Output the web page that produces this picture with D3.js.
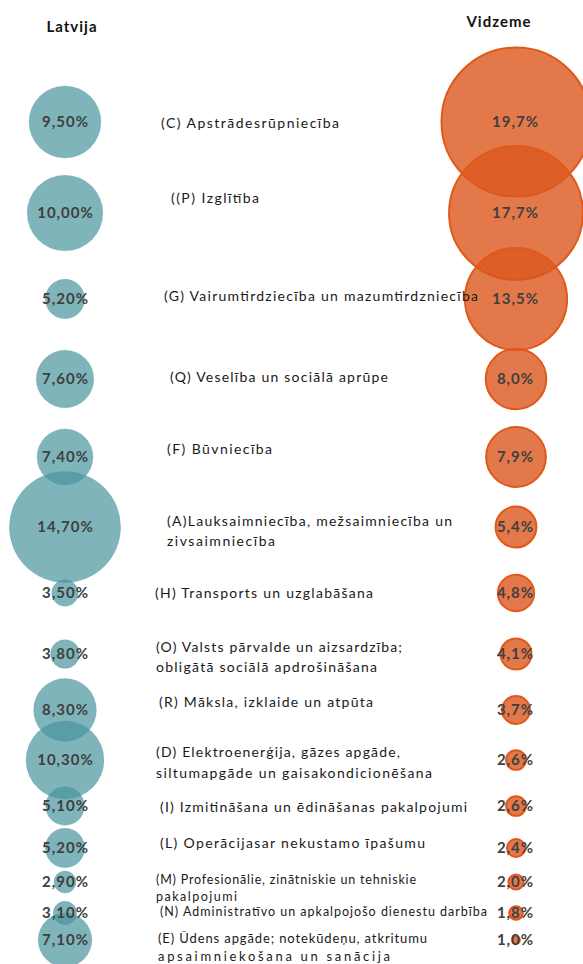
<!DOCTYPE html>
<html><head><meta charset="utf-8">
<script src="https://cdn.jsdelivr.net/npm/d3@7"></script>
<style>
html,body{margin:0;padding:0;background:#fff;}
svg{display:block;font-family:Lato,"Open Sans",sans-serif;}
</style></head>
<body>
<svg id="chart" width="583" height="964"></svg>
<script>
// ---- data ----
const categories = [
  "(C) Apstrādesrūpniecība",
  "((P) Izglītība",
  "(G) Vairumtirdziecība un mazumtirdzniecība",
  "(Q) Veselība un sociālā aprūpe",
  "(F) Būvniecība",
  "(A)Lauksaimniecība, mežsaimniecība un|zivsaimniecība",
  "(H) Transports un uzglabāšana",
  "(O) Valsts pārvalde un aizsardzība;|obligātā sociālā apdrošināšana",
  "(R) Māksla, izklaide un atpūta",
  "(D) Elektroenerģija, gāzes apgāde,|siltumapgāde un gaisakondicionēšana",
  "(I) Izmitināšana un ēdināšanas pakalpojumi",
  "(L) Operācijasar nekustamo īpašumu",
  "(M) Profesionālie, zinātniskie un tehniskie|pakalpojumi",
  "(N) Administratīvo un apkalpojošo dienestu darbība",
  "(E) Ūdens apgāde; notekūdeņu, atkritumu|apsaimniekošana un sanācija"
];
const latvija = [9.5, 10.0, 5.2, 7.6, 7.4, 14.7, 3.5, 3.8, 8.3, 10.3, 5.1, 5.2, 2.9, 3.1, 7.1];
const vidzeme = [19.7, 17.7, 13.5, 8.0, 7.9, 5.4, 4.8, 4.1, 3.7, 2.6, 2.6, 2.4, 2.0, 1.8, 1.0];
const seriesNames = ["Latvija", "Vidzeme"];

// ---- layout (positions, not data) ----
const rowY   = [122, 213, 299, 379, 457, 527, 593, 654, 710, 760, 806, 848, 882, 913, 940];
const labelY = [123, 198, 296, 377, 449, 521, 593, 647, 702, 752, 807, 843, 880, 912, 938];
const labelX = [161, 171, 164, 170, 167, 167, 155, 156, 159, 156, 160, 160, 156, 160, 158];
const labelSize = [14,14,14,14,14,14,14,14,14,14,14,14,12.5,12.5,13];
const lineGap   = [20,20,20,20,20,20,20,20,20,21,20,20,17,17,18];
const lineWidths = [[178],[88],[314],[218],[105],[285,108],[218],[246,221],[214],[244,276],
                    [307],[265],[260,81],[327],[269,232]];

const svg = d3.select("#chart");
const x = d3.scalePoint().domain(seriesNames).range([65, 516]);
const r = d3.scaleLinear().domain([0, 19.7]).range([0, 74.5]);
const y = d3.scaleLinear().domain([0, 964]).range([0, 964]);

const fmtL = v => d3.format(".2f")(v).replace(".", ",") + "%";
const fmtV = v => d3.format(".1f")(v).replace(".", ",") + "%";

// headers
svg.append("text").attr("x", 72).attr("y", 32).attr("text-anchor", "middle")
  .attr("font-weight", "bold").attr("font-size", 15).attr("letter-spacing", 1)
  .attr("fill", "#111").text(seriesNames[0]);
svg.append("text").attr("x", 499).attr("y", 27).attr("text-anchor", "middle")
  .attr("font-weight", "bold").attr("font-size", 15).attr("letter-spacing", 1)
  .attr("fill", "#111").text(seriesNames[1]);

// bubbles
svg.append("g").selectAll("circle").data(latvija).join("circle")
  .attr("cx", x("Latvija")).attr("cy", (d, i) => y(rowY[i])).attr("r", d => r(d))
  .attr("fill", "rgb(72,148,158)").attr("fill-opacity", 0.7)
  .attr("stroke", "rgb(72,148,158)").attr("stroke-opacity", 0.25).attr("stroke-width", 1);

svg.append("g").selectAll("circle").data(vidzeme).join("circle")
  .attr("cx", x("Vidzeme")).attr("cy", (d, i) => y(rowY[i])).attr("r", d => r(d))
  .attr("fill", "rgb(220,88,30)").attr("fill-opacity", 0.8)
  .attr("stroke", "rgb(224,88,26)").attr("stroke-width", 2);

// value labels
svg.append("g").selectAll("text").data(latvija).join("text")
  .attr("x", x("Latvija") + 0.5).attr("y", (d, i) => y(rowY[i])).attr("dy", "0.35em")
  .attr("text-anchor", "middle").attr("font-weight", "bold").attr("font-size", 15)
  .attr("letter-spacing", 1).attr("fill", "#404040").text(d => fmtL(d));

svg.append("g").selectAll("text").data(vidzeme).join("text")
  .attr("x", x("Vidzeme") - 0.5).attr("y", (d, i) => y(rowY[i])).attr("dy", "0.35em")
  .attr("text-anchor", "middle").attr("font-weight", "bold").attr("font-size", 15)
  .attr("letter-spacing", 1).attr("fill", "#404040").text(d => fmtV(d));

// category labels
const cat = svg.append("g").selectAll("text").data(categories).join("text")
  .attr("x", (d, i) => labelX[i]).attr("y", (d, i) => y(labelY[i]))
  .attr("font-size", (d, i) => labelSize[i]).attr("fill", "#1a1a1a");
cat.each(function(d, i) {
  const lines = d.split("|");
  const t = d3.select(this);
  lines.forEach((ln, j) => {
    t.append("tspan").attr("x", labelX[i])
      .attr("dy", j === 0 ? "0.35em" : lineGap[i] + "px")
      .attr("textLength", lineWidths[i][j]).attr("lengthAdjust", "spacing")
      .text(ln);
  });
});
</script>
</body></html>
